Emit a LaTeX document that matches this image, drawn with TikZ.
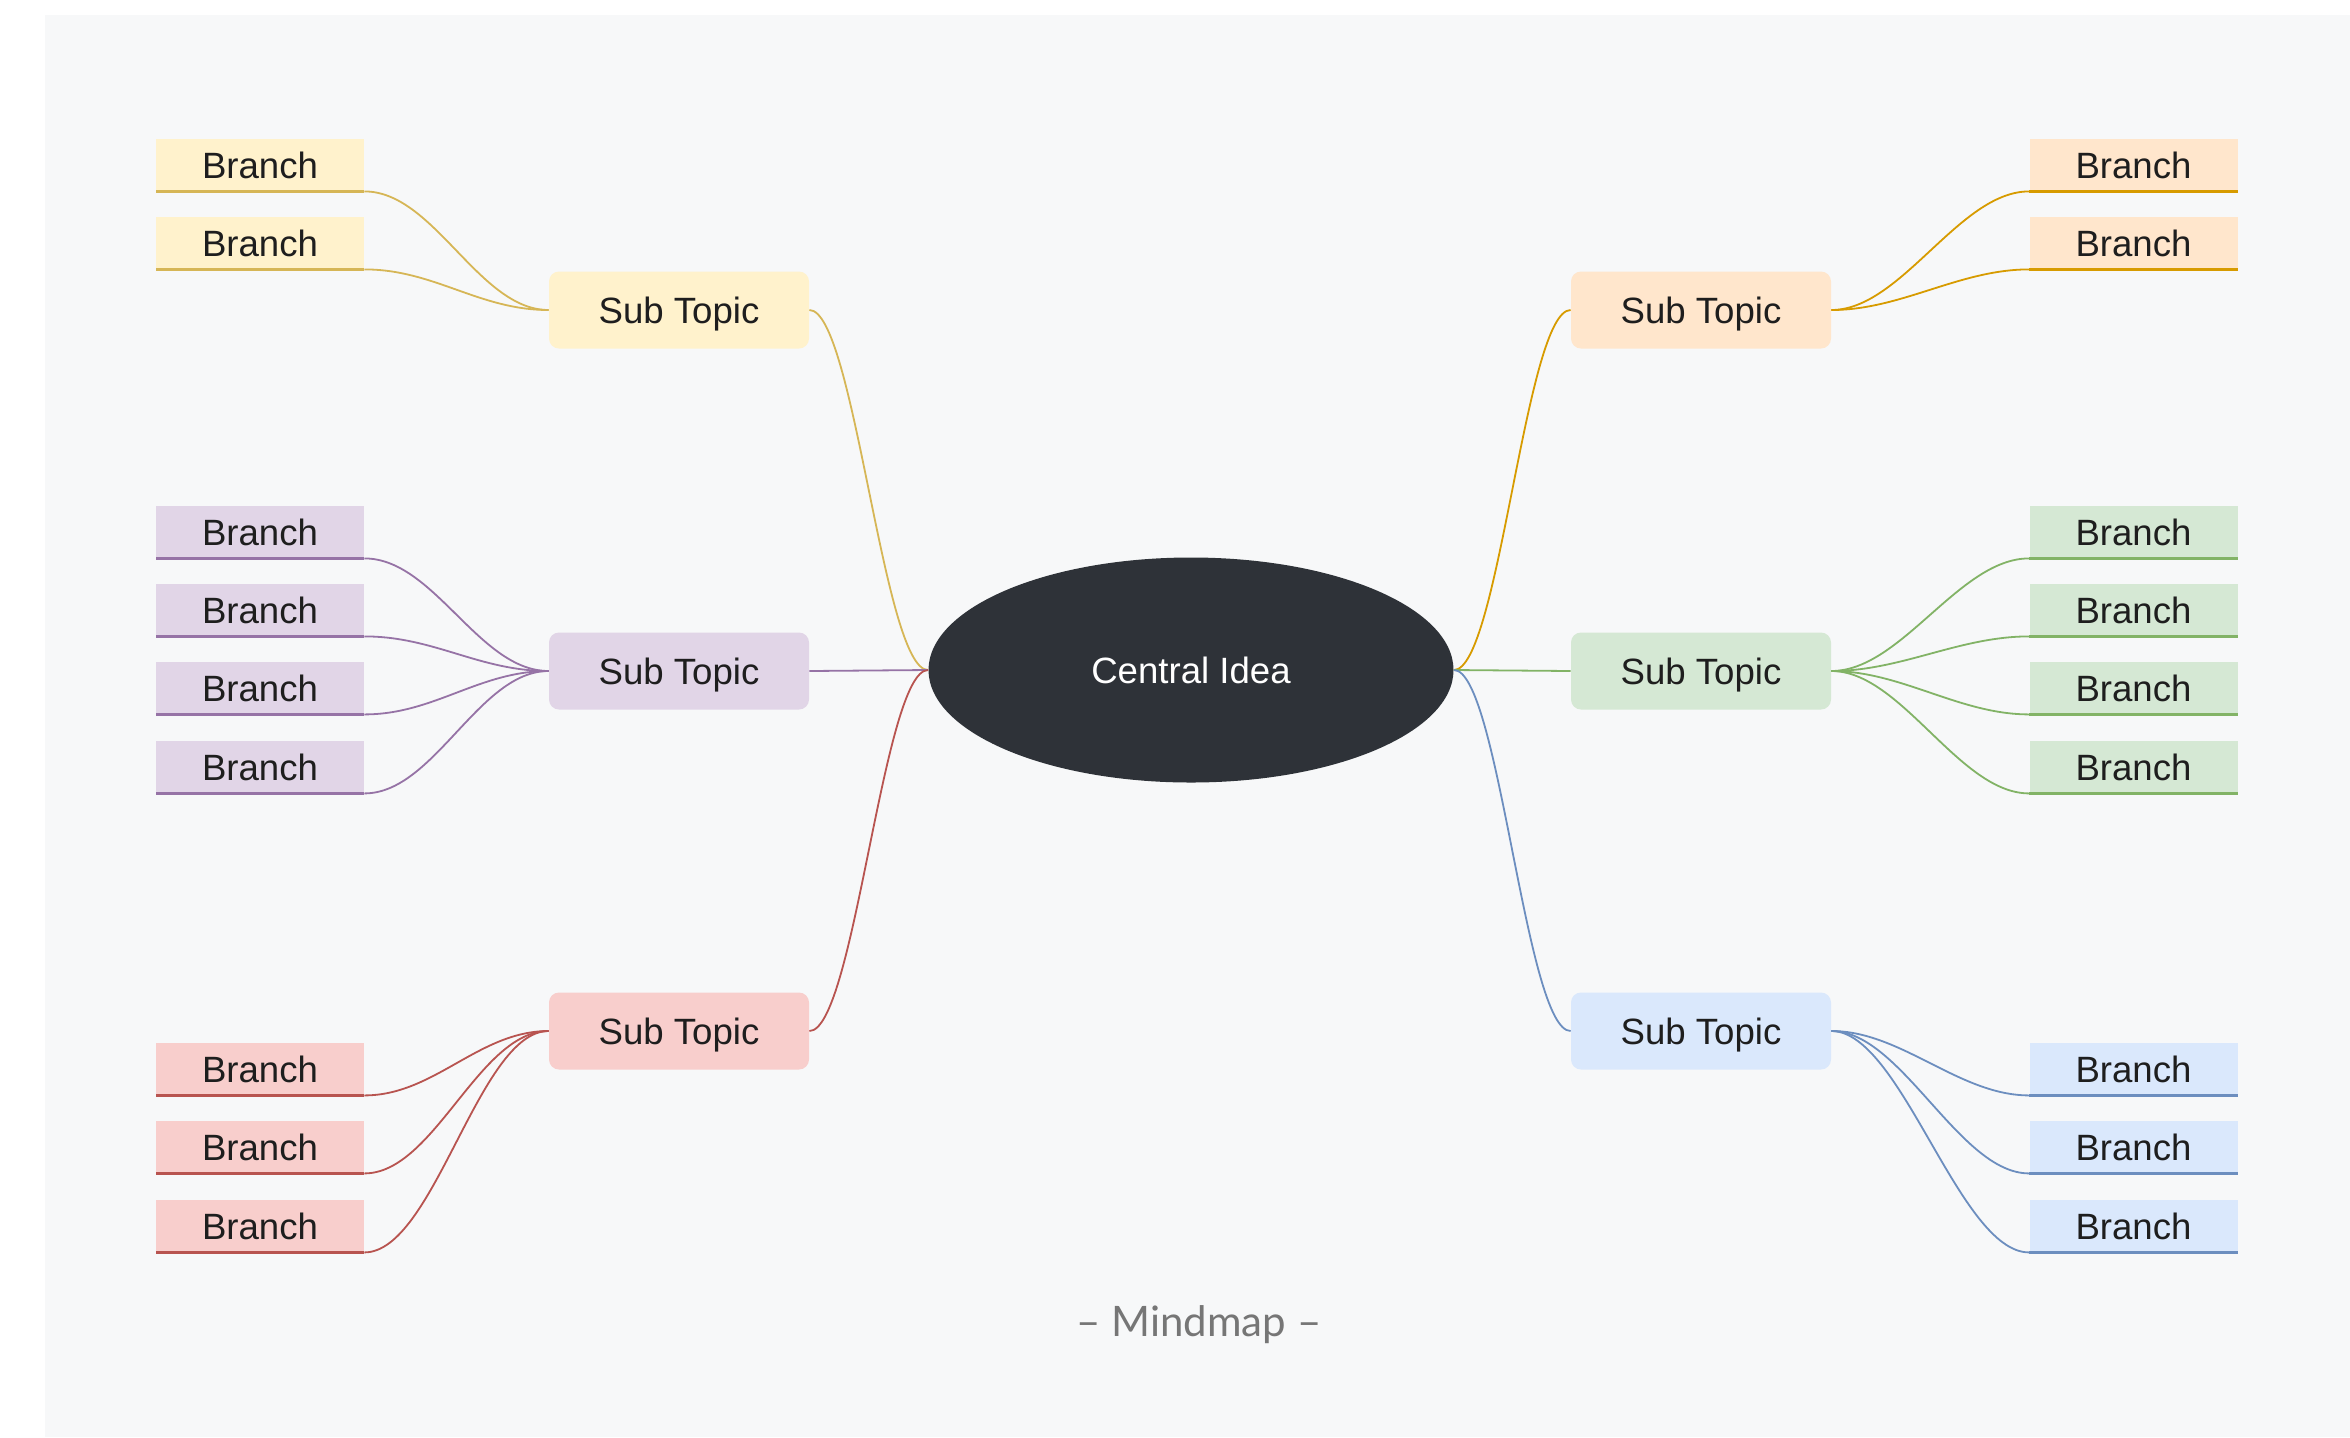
\documentclass[tikz,border=0pt]{standalone}
\usepackage{fontspec}
\setmainfont{Liberation Sans}
\newfontfamily\capfont{Lato}
\usetikzlibrary{shapes.geometric}
\definecolor{panel}{HTML}{F7F8F9}
\definecolor{txt}{HTML}{1E1E1E}
\definecolor{capgray}{HTML}{767676}
\definecolor{core}{HTML}{2E3238}
\definecolor{yfill}{HTML}{FFF2CC}\definecolor{ystroke}{HTML}{D6B656}
\definecolor{ofill}{HTML}{FFE6CC}\definecolor{ostroke}{HTML}{D79B00}
\definecolor{pfill}{HTML}{E1D5E7}\definecolor{pstroke}{HTML}{9673A6}
\definecolor{gfill}{HTML}{D5E8D4}\definecolor{gstroke}{HTML}{82B366}
\definecolor{rfill}{HTML}{F8CECC}\definecolor{rstroke}{HTML}{B85450}
\definecolor{bfill}{HTML}{DAE8FC}\definecolor{bstroke}{HTML}{6C8EBF}
\tikzset{
  lbl/.style={font=\fontsize{18.3}{22}\selectfont},
  branchbox/.style={lbl, fill=#1, text=txt, minimum width=104pt, minimum height=26pt, inner sep=0pt},
  subbox/.style={lbl, fill=#1, text=txt, rounded corners=5pt, minimum width=130pt, minimum height=38.5pt, inner sep=0pt, text depth=0pt},
  link/.style={draw=#1, line width=0.9pt},
  under/.style={draw=#1, line width=1.1pt},
}
\begin{document}
\begin{tikzpicture}[x=0.5pt,y=-0.5pt]
\useasboundingbox (0,0) rectangle (2350,1437);
\fill[white] (0,0) rectangle (2350,1437);
\fill[panel] (45,15) rectangle (2350,1437);

% central
\node[ellipse, fill=core, minimum width=262.5pt, minimum height=112.5pt, inner sep=0pt, lbl, text=white] (c) at (1191,670) {Central Idea};

% sub topics
\node[subbox=yfill] (ys) at (679,310) {Sub Topic};
\node[subbox=pfill] (ps) at (679,671) {Sub Topic};
\node[subbox=rfill] (rs) at (679,1031) {Sub Topic};
\node[subbox=ofill] (os) at (1701,310) {Sub Topic};
\node[subbox=gfill] (gs) at (1701,671) {Sub Topic};
\node[subbox=bfill] (bs) at (1701,1031) {Sub Topic};

% branches
\foreach \yy [count=\k] in {165,243} {
  \node[branchbox=yfill] (yb\k) at (260,\yy) {Branch};
  \node[branchbox=ofill] (ob\k) at (2133.5,\yy) {Branch};
}
\foreach \yy [count=\k] in {532,610,688,767} {
  \node[branchbox=pfill] (pb\k) at (260,\yy) {Branch};
  \node[branchbox=gfill] (gb\k) at (2133.5,\yy) {Branch};
}
\foreach \yy [count=\k] in {1069,1147,1226} {
  \node[branchbox=rfill] (rb\k) at (260,\yy) {Branch};
  \node[branchbox=bfill] (bb\k) at (2133.5,\yy) {Branch};
}

% central to sub topics
\draw[link=ystroke] (c.west) .. controls +(-45,0) and +(45,0) .. (ys.east);
\draw[link=pstroke] (c.west) -- (ps.east);
\draw[link=rstroke] (c.west) .. controls +(-45,0) and +(45,0) .. (rs.east);
\draw[link=ostroke] (c.east) .. controls +(45,0) and +(-45,0) .. (os.west);
\draw[link=gstroke] (c.east) -- (gs.west);
\draw[link=bstroke] (c.east) .. controls +(45,0) and +(-45,0) .. (bs.west);

% sub topics to branches
\foreach \k in {1,2} {
  \draw[link=ystroke] (ys.west) .. controls +(-70,0) and +(70,0) .. (yb\k.south east);
  \draw[under=ystroke] (yb\k.south east) -- (yb\k.south west);
  \draw[link=ostroke] (os.east) .. controls +(70,0) and +(-70,0) .. (ob\k.south west);
  \draw[under=ostroke] (ob\k.south west) -- (ob\k.south east);
}
\foreach \k in {1,2,3,4} {
  \draw[link=pstroke] (ps.west) .. controls +(-70,0) and +(70,0) .. (pb\k.south east);
  \draw[under=pstroke] (pb\k.south east) -- (pb\k.south west);
  \draw[link=gstroke] (gs.east) .. controls +(70,0) and +(-70,0) .. (gb\k.south west);
  \draw[under=gstroke] (gb\k.south west) -- (gb\k.south east);
}
\foreach \k in {1,2,3} {
  \draw[link=rstroke] (rs.west) .. controls +(-70,0) and +(70,0) .. (rb\k.south east);
  \draw[under=rstroke] (rb\k.south east) -- (rb\k.south west);
  \draw[link=bstroke] (bs.east) .. controls +(70,0) and +(-70,0) .. (bb\k.south west);
  \draw[under=bstroke] (bb\k.south west) -- (bb\k.south east);
}

% caption
\node[font=\capfont\fontsize{21}{25}\selectfont, text=capgray] (cap) at (1199,1325) {– Mindmap –};
\end{tikzpicture}
\end{document}
